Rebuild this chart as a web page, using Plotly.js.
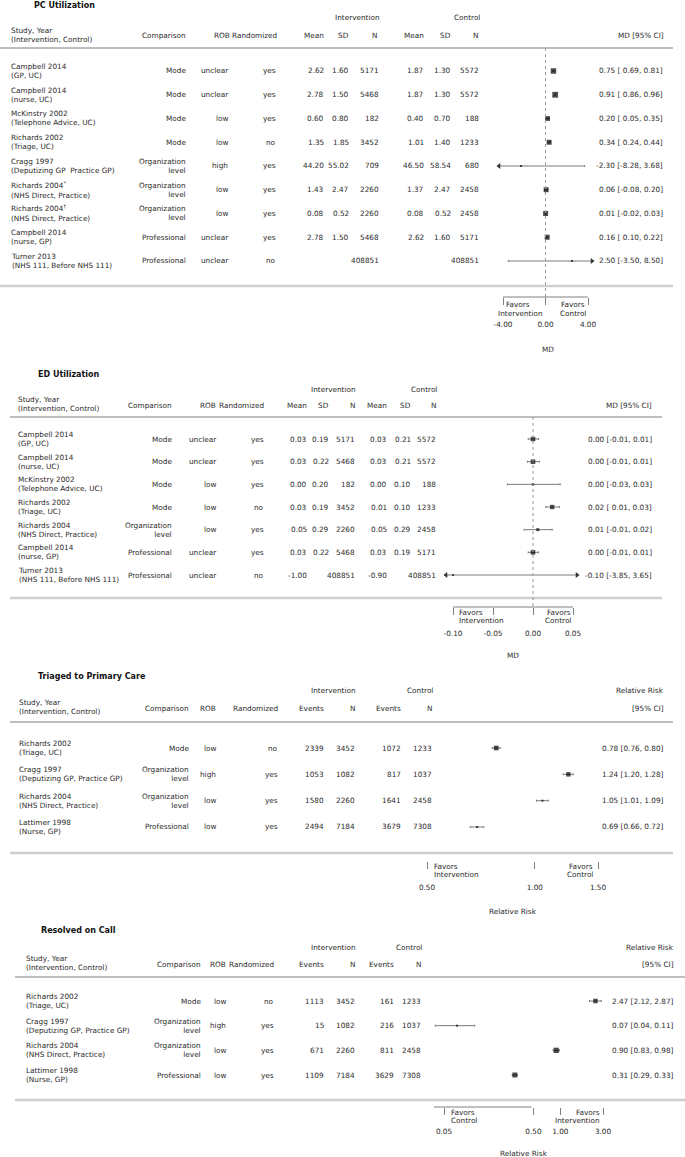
<!DOCTYPE html>
<html>
<head>
<meta charset="utf-8">
<script src="https://cdn.plot.ly/plotly-3.0.1.min.js"></script>
<style>
  body { margin: 0; background: #fff; }
  #graph { width: 685px; height: 1157px; }
</style>
</head>
<body>
<div id="graph"></div>
<script>
// ---------- data: PC utilization (mean difference) ----------
var pcStudy = ['Campbell 2014', 'Campbell 2014', 'McKinstry 2002', 'Richards 2002', 'Cragg 1997',
  'Richards 2004<sup>*</sup>', 'Richards 2004<sup>†</sup>', 'Campbell 2014', 'Turner 2013'];
var pcArms = ['(GP, UC)', '(nurse, UC)', '(Telephone Advice, UC)', '(Triage, UC)', '(Deputizing GP  Practice GP)',
  '(NHS Direct, Practice)', '(NHS Direct, Practice)', '(nurse, GP)', '(NHS 111, Before NHS 111)'];
var pcComparison = ['Mode', 'Mode', 'Mode', 'Mode', 'Organization<br>level', 'Organization<br>level',
  'Organization<br>level', 'Professional', 'Professional'];
var pcRob = ['unclear', 'unclear', 'low', 'low', 'high', 'low', 'low', 'unclear', 'unclear'];
var pcRand = ['yes', 'yes', 'yes', 'no', 'yes', 'yes', 'yes', 'yes', 'no'];
var pcIntMean = [2.62, 2.78, 0.60, 1.35, 44.20, 1.43, 0.08, 2.78, null];
var pcIntSD = [1.60, 1.50, 0.80, 1.85, 55.02, 2.47, 0.52, 1.50, null];
var pcIntN = [5171, 5468, 182, 3452, 709, 2260, 2260, 5468, 408851];
var pcCtlMean = [1.87, 1.87, 0.40, 1.01, 46.50, 1.37, 0.08, 2.62, null];
var pcCtlSD = [1.30, 1.30, 0.70, 1.40, 58.54, 2.47, 0.52, 1.60, null];
var pcCtlN = [5572, 5572, 188, 1233, 680, 2458, 2458, 5171, 408851];
var pcMD = [0.75, 0.91, 0.20, 0.34, -2.30, 0.06, 0.01, 0.16, 2.50];
var pcLo = [0.69, 0.86, 0.05, 0.24, -8.28, -0.08, -0.02, 0.10, -3.50];
var pcHi = [0.81, 0.96, 0.35, 0.44, 3.68, 0.20, 0.03, 0.22, 8.50];
var pcTicks = [-4, 0, 4];

// ---------- data: ED utilization (mean difference) ----------
var edStudy = ['Campbell 2014', 'Campbell 2014', 'McKinstry 2002', 'Richards 2002', 'Richards 2004',
  'Campbell 2014', 'Turner 2013'];
var edArms = ['(GP, UC)', '(nurse, UC)', '(Telephone Advice, UC)', '(Triage, UC)', '(NHS Direct, Practice)',
  '(nurse, GP)', '(NHS 111, Before NHS 111)'];
var edComparison = ['Mode', 'Mode', 'Mode', 'Mode', 'Organization<br>level', 'Professional', 'Professional'];
var edRob = ['unclear', 'unclear', 'low', 'low', 'low', 'unclear', 'unclear'];
var edRand = ['yes', 'yes', 'yes', 'no', 'yes', 'yes', 'no'];
var edIntMean = [0.03, 0.03, 0.00, 0.03, 0.05, 0.03, -1.00];
var edIntSD = [0.19, 0.22, 0.20, 0.19, 0.29, 0.22, null];
var edIntN = [5171, 5468, 182, 3452, 2260, 5468, 408851];
var edCtlMean = [0.03, 0.03, 0.00, 0.01, 0.05, 0.03, -0.90];
var edCtlSD = [0.21, 0.21, 0.10, 0.10, 0.29, 0.19, null];
var edCtlN = [5572, 5572, 188, 1233, 2458, 5171, 408851];
// plotted (unrounded) and printed values
var edMD = [0.000, 0.000, 0.000, 0.024, 0.006, 0.000, -0.10];
var edLo = [-0.006, -0.007, -0.032, 0.016, -0.011, -0.006, -3.85];
var edHi = [0.007, 0.008, 0.034, 0.033, 0.024, 0.007, 3.65];
var edCI = ['0.00 [-0.01, 0.01]', '0.00 [-0.01, 0.01]', '0.00 [-0.03, 0.03]', '0.02 [ 0.01, 0.03]',
  '0.01 [-0.01, 0.02]', '0.00 [-0.01, 0.01]', '-0.10 [-3.85, 3.65]'];
var edTicks = [-0.10, -0.05, 0.00, 0.05];

// ---------- data: triaged to primary care (relative risk) ----------
var tpStudy = ['Richards 2002', 'Cragg 1997', 'Richards 2004', 'Lattimer 1998'];
var tpArms = ['(Triage, UC)', '(Deputizing GP, Practice GP)', '(NHS Direct, Practice)', '(Nurse, GP)'];
var tpComparison = ['Mode', 'Organization<br>level', 'Organization<br>level', 'Professional'];
var tpRob = ['low', 'high', 'low', 'low'];
var tpRand = ['no', 'yes', 'yes', 'yes'];
var tpIntEvents = [2339, 1053, 1580, 2494];
var tpIntN = [3452, 1082, 2260, 7184];
var tpCtlEvents = [1072, 817, 1641, 3679];
var tpCtlN = [1233, 1037, 2458, 7308];
var tpRR = [0.78, 1.24, 1.05, 0.69];
var tpLo = [0.76, 1.20, 1.01, 0.66];
var tpHi = [0.80, 1.28, 1.09, 0.72];
var tpTicks = [0.5, 1.0, 1.5];

// ---------- data: resolved on call (relative risk) ----------
var rcStudy = ['Richards 2002', 'Cragg 1997', 'Richards 2004', 'Lattimer 1998'];
var rcArms = ['(Triage, UC)', '(Deputizing GP, Practice GP)', '(NHS Direct, Practice)', '(Nurse, GP)'];
var rcComparison = ['Mode', 'Organization<br>level', 'Organization<br>level', 'Professional'];
var rcRob = ['low', 'high', 'low', 'low'];
var rcRand = ['no', 'yes', 'yes', 'yes'];
var rcIntEvents = [1113, 15, 671, 1109];
var rcIntN = [3452, 1082, 2260, 7184];
var rcCtlEvents = [161, 216, 811, 3629];
var rcCtlN = [1233, 1037, 2458, 7308];
var rcRR = [2.47, 0.07, 0.90, 0.31];
var rcLo = [2.12, 0.04, 0.83, 0.29];
var rcHi = [2.87, 0.11, 0.98, 0.33];
var rcTicks = [0.05, 0.5, 1.0, 3.0];

// box sizes (px) of the study squares
var pcBox = [5.5, 5.8, 4.8, 5, 2, 5, 5, 5, 2];
var edBox = [4.6, 4.6, 2.5, 4.3, 3, 4.6, 1.8];
var tpBox = [4.7, 4.4, 2, 2];
var rcBox = [4.5, 2, 5.3, 5];

// ---------- page geometry ----------
var W = 685, H = 1157;
var FONT = 'DejaVu Sans, Verdana, sans-serif';
var FS = 7.3;
var TXT = '#2a2a2a';

var annotations = [], shapes = [], traces = [], layout = {};

function py(p) { return 1 - p / H; }

function note(text, xpx, ypx, anchor, extra) {
  var a = {
    text: text, xref: 'paper', yref: 'paper', x: xpx / W, y: py(ypx),
    xanchor: anchor, yanchor: 'middle', showarrow: false, borderpad: 0,
    align: anchor === 'right' ? 'right' : 'left',
    font: { family: FONT, size: FS, color: TXT }
  };
  for (var k in extra) a[k] = extra[k];
  annotations.push(a);
}

function cell(text, xpx, row, yref, anchor) {
  if (text === null || text === undefined || text === '') return;
  annotations.push({
    text: String(text), xref: 'paper', yref: yref, x: xpx / W, y: row,
    xanchor: anchor, yanchor: 'middle', showarrow: false, borderpad: 0,
    align: anchor === 'right' ? 'right' : 'left',
    font: { family: FONT, size: FS, color: TXT }
  });
}

function hline(x0, x1, ypx, color, width) {
  shapes.push({ type: 'line', xref: 'paper', yref: 'paper', x0: x0 / W, x1: x1 / W,
    y0: py(ypx), y1: py(ypx), line: { color: color, width: width } });
}

function f2(v) { return v === null ? '' : v.toFixed(2); }
function lo2(v) { return (v < 0 ? '' : ' ') + v.toFixed(2); }

// draw one forest panel
function panel(n, g, rows) {
  var xa = n === 1 ? 'x' : 'x' + n, ya = n === 1 ? 'y' : 'y' + n;
  var xk = n === 1 ? 'xaxis' : 'xaxis' + n, yk = n === 1 ? 'yaxis' : 'yaxis' + n;
  var isLog = g.log;
  var tv = g.ticks;
  var conv = function (v) { return isLog ? Math.log10(v) : v; };

  layout[xk] = {
    domain: [g.dom[0] / W, g.dom[1] / W], range: g.range, type: isLog ? 'log' : 'linear',
    anchor: ya, showgrid: false, zeroline: false, showline: false,
    ticks: 'outside', ticklen: 7, tickwidth: 1, tickcolor: '#808080',
    tickvals: tv, ticktext: tv.map(f2), ticklabelstandoff: g.standoff,
    tickfont: { family: FONT, size: FS, color: TXT }, fixedrange: true
  };
  var yb = (g.brk - g.row0) / g.step, yt = (g.hdr - g.row0) / g.step;
  layout[yk] = { domain: [py(g.brk), py(g.hdr)], range: [yb, yt], visible: false, anchor: xa, fixedrange: true };

  // table rules
  hline(g.rule[0], g.rule[1], g.hdr, '#a8a8a8', 1.3);
  hline(g.rule[0], g.rule[1], g.bottom, '#cfcfcf', 2.5);

  // reference line and bracket axis
  shapes.push({ type: 'line', xref: xa, yref: 'paper', x0: conv(g.ref), x1: conv(g.ref),
    y0: py(g.hdr), y1: py(g.brk), line: { color: '#9a9a9a', width: 1, dash: 'dot' } });
  shapes.push({ type: 'line', xref: xa, yref: 'paper', x0: conv(tv[0]), x1: conv(tv[tv.length - 1]),
    y0: py(g.brk), y1: py(g.brk), line: { color: '#808080', width: 1 } });

  // estimates with CIs clipped to the axis range
  var lim0 = isLog ? Math.pow(10, g.range[0]) : g.range[0];
  var lim1 = isLog ? Math.pow(10, g.range[1]) : g.range[1];
  var idx = rows.est.map(function (_, i) { return i; });
  var hiC = rows.hi.map(function (v) { return Math.min(v, lim1); });
  var loC = rows.lo.map(function (v) { return Math.max(v, lim0); });
  traces.push({
    type: 'scatter', mode: 'markers', xaxis: xa, yaxis: ya, x: rows.est, y: idx,
    marker: { symbol: 'square', size: rows.box, color: '#000', line: { width: 0 } },
    error_x: { type: 'data', symmetric: false,
      array: hiC.map(function (v, i) { return v - rows.est[i]; }),
      arrayminus: loC.map(function (v, i) { return rows.est[i] - v; }),
      color: '#7a7a7a', thickness: 1, width: 1 },
    hoverinfo: 'skip', showlegend: false
  });
  // arrows where the CI runs past the axis
  var ax = [], ay = [], as = [];
  rows.lo.forEach(function (v, i) { if (v < lim0) { ax.push(lim0); ay.push(i); as.push('triangle-left'); } });
  rows.hi.forEach(function (v, i) { if (v > lim1) { ax.push(lim1); ay.push(i); as.push('triangle-right'); } });
  if (ax.length) {
    traces.push({ type: 'scatter', mode: 'markers', xaxis: xa, yaxis: ya, x: ax, y: ay, cliponaxis: false,
      marker: { symbol: as, size: 5, color: '#333' }, hoverinfo: 'skip', showlegend: false });
  }

  // axis title and favors labels
  note(g.axisTitle, (g.dom[0] + g.dom[1]) / 2 + g.titleDx, g.titleY, 'center');
  g.favors.forEach(function (f) { note(f[0], f[1], f[2], f[3]); });

  // panel title
  note('<b>' + g.title + '</b>', g.titleX, g.titleTop, 'left', { font: { family: FONT, size: 8, color: '#111' } });

  // table cells
  rows.cols.forEach(function (c) {
    c.vals.forEach(function (v, i) { cell(v, c.x, i, ya, c.anchor); });
  });
  g.heads.forEach(function (h) { note(h[0], h[1], h[2], h[3]); });
}

function studyCells(study, arms) {
  return study.map(function (s, i) { return s + '<br>' + arms[i]; });
}
function ciText(est, lo, hi, pad) {
  return est.map(function (v, i) {
    return f2(v) + ' [' + (pad ? lo2(lo[i]) : f2(lo[i])) + ', ' + f2(hi[i]) + ']';
  });
}
function ints(a) { return a.map(function (v) { return v === null ? '' : String(v); }); }

// ---------- panel 1 ----------
panel(1, {
  title: 'PC Utilization', titleX: 33, titleTop: 5,
  hdr: 48, row0: 71, step: 23.75, bottom: 286, brk: 297, rule: [0, 673],
  dom: [499, 592], range: [-4.376, 4.376], ref: 0, ticks: pcTicks, standoff: 13,
  axisTitle: 'MD', titleY: 350, titleDx: 2,
  favors: [['Favors', 505, 304, 'left'], ['Intervention', 497, 313, 'left'],
           ['Favors', 586, 304, 'right'], ['Control', 587, 313, 'right']],
  heads: [['Intervention', 381, 18, 'right'], ['Control', 481, 18, 'right'],
          ['Study, Year<br>(Intervention, Control)', 10, 35, 'left'], ['Comparison', 187, 35, 'right'],
          ['ROB', 231, 35, 'right'], ['Randomized', 278, 35, 'right'], ['Mean', 325, 35, 'right'],
          ['SD', 350, 35, 'right'], ['N', 378, 35, 'right'], ['Mean', 425, 35, 'right'],
          ['SD', 452, 35, 'right'], ['N', 479, 35, 'right'], ['MD [95% CI]', 665, 35, 'right']]
}, {
  est: pcMD, lo: pcLo, hi: pcHi, box: pcBox,
  cols: [
    { x: 10, anchor: 'left', vals: studyCells(pcStudy, pcArms) },
    { x: 187, anchor: 'right', vals: pcComparison },
    { x: 229, anchor: 'right', vals: pcRob },
    { x: 277, anchor: 'right', vals: pcRand },
    { x: 325, anchor: 'right', vals: pcIntMean.map(f2) },
    { x: 350, anchor: 'right', vals: pcIntSD.map(f2) },
    { x: 380, anchor: 'right', vals: ints(pcIntN) },
    { x: 425, anchor: 'right', vals: pcCtlMean.map(f2) },
    { x: 452, anchor: 'right', vals: pcCtlSD.map(f2) },
    { x: 480, anchor: 'right', vals: ints(pcCtlN) },
    { x: 664, anchor: 'right', vals: ciText(pcMD, pcLo, pcHi, true) }
  ]
});

// ---------- panel 2 ----------
panel(2, {
  title: 'ED Utilization', titleX: 37, titleTop: 374,
  hdr: 417, row0: 439, step: 22.667, bottom: 598, brk: 607, rule: [10, 662],
  dom: [446, 577], range: [-0.10875, 0.055], ref: 0, ticks: edTicks, standoff: 12,
  axisTitle: 'MD', titleY: 655, titleDx: 1,
  favors: [['Favors', 458, 612, 'left'], ['Intervention', 458, 620, 'left'],
           ['Favors', 572, 612, 'right'], ['Control', 572, 620, 'right']],
  heads: [['Intervention', 357, 390, 'right'], ['Control', 438, 390, 'right'],
          ['Study, Year<br>(Intervention, Control)', 17, 404, 'left'], ['Comparison', 173, 405, 'right'],
          ['ROB', 217, 405, 'right'], ['Randomized', 265, 405, 'right'], ['Mean', 308, 405, 'right'],
          ['SD', 330, 405, 'right'], ['N', 356, 405, 'right'], ['Mean', 388, 405, 'right'],
          ['SD', 412, 405, 'right'], ['N', 437, 405, 'right'], ['MD [95% CI]', 653, 405, 'right']]
}, {
  est: edMD, lo: edLo, hi: edHi, box: edBox,
  cols: [
    { x: 17, anchor: 'left', vals: studyCells(edStudy, edArms) },
    { x: 173, anchor: 'right', vals: edComparison },
    { x: 217, anchor: 'right', vals: edRob },
    { x: 265, anchor: 'right', vals: edRand },
    { x: 308, anchor: 'right', vals: edIntMean.map(f2) },
    { x: 330, anchor: 'right', vals: edIntSD.map(f2) },
    { x: 356, anchor: 'right', vals: ints(edIntN) },
    { x: 388, anchor: 'right', vals: edCtlMean.map(f2) },
    { x: 412, anchor: 'right', vals: edCtlSD.map(f2) },
    { x: 437, anchor: 'right', vals: ints(edCtlN) },
    { x: 653, anchor: 'right', vals: edCI }
  ]
});

// ---------- panel 3 ----------
panel(3, {
  title: 'Triaged to Primary Care', titleX: 37, titleTop: 676, log: true,
  hdr: 722, row0: 748, step: 26.33, bottom: 853, brk: 861, rule: [10, 673],
  dom: [427, 598], range: [Math.log10(0.5), Math.log10(1.5)], ref: 1, ticks: tpTicks, standoff: 12,
  axisTitle: 'Relative Risk', titleY: 911, titleDx: 0,
  favors: [['Favors', 433, 866, 'left'], ['Intervention', 433, 874, 'left'],
           ['Favors', 594, 866, 'right'], ['Control', 594, 874, 'right']],
  heads: [['Intervention', 357, 690, 'right'], ['Control', 434, 690, 'right'], ['Relative Risk', 665, 690, 'right'],
          ['Study, Year<br>(Intervention, Control)', 18, 707, 'left'], ['Comparison', 190, 708, 'right'],
          ['ROB', 217, 708, 'right'], ['Randomized', 279, 708, 'right'], ['Events', 325, 708, 'right'],
          ['N', 356, 708, 'right'], ['Events', 402, 708, 'right'], ['N', 433, 708, 'right'],
          ['[95% CI]', 665, 708, 'right']]
}, {
  est: tpRR, lo: tpLo, hi: tpHi, box: tpBox,
  cols: [
    { x: 18, anchor: 'left', vals: studyCells(tpStudy, tpArms) },
    { x: 190, anchor: 'right', vals: tpComparison },
    { x: 217, anchor: 'right', vals: tpRob },
    { x: 279, anchor: 'right', vals: tpRand },
    { x: 325, anchor: 'right', vals: ints(tpIntEvents) },
    { x: 356, anchor: 'right', vals: ints(tpIntN) },
    { x: 402, anchor: 'right', vals: ints(tpCtlEvents) },
    { x: 433, anchor: 'right', vals: ints(tpCtlN) },
    { x: 665, anchor: 'right', vals: ciText(tpRR, tpLo, tpHi, false) }
  ]
});

// ---------- panel 4 ----------
panel(4, {
  title: 'Resolved on Call', titleX: 40, titleTop: 930, log: true,
  hdr: 977, row0: 1001, step: 24.67, bottom: 1100, brk: 1107, rule: [15, 685],
  dom: [434, 613], range: [-1.41286, 0.58895], ref: 1, ticks: rcTicks, standoff: 10,
  axisTitle: 'Relative Risk', titleY: 1153, titleDx: 0,
  favors: [['Favors', 450, 1112, 'left'], ['Control', 450, 1120, 'left'],
           ['Favors', 601, 1112, 'right'], ['Intervention', 601, 1120, 'right']],
  heads: [['Intervention', 357, 947, 'right'], ['Control', 423, 947, 'right'], ['Relative Risk', 675, 947, 'right'],
          ['Study, Year<br>(Intervention, Control)', 25, 963, 'left'], ['Comparison', 202, 964, 'right'],
          ['ROB', 227, 964, 'right'], ['Randomized', 275, 964, 'right'], ['Events', 325, 964, 'right'],
          ['N', 356, 964, 'right'], ['Events', 395, 964, 'right'], ['N', 422, 964, 'right'],
          ['[95% CI]', 675, 964, 'right']]
}, {
  est: rcRR, lo: rcLo, hi: rcHi, box: rcBox,
  cols: [
    { x: 25, anchor: 'left', vals: studyCells(rcStudy, rcArms) },
    { x: 202, anchor: 'right', vals: rcComparison },
    { x: 227, anchor: 'right', vals: rcRob },
    { x: 275, anchor: 'right', vals: rcRand },
    { x: 325, anchor: 'right', vals: ints(rcIntEvents) },
    { x: 356, anchor: 'right', vals: ints(rcIntN) },
    { x: 395, anchor: 'right', vals: ints(rcCtlEvents) },
    { x: 422, anchor: 'right', vals: ints(rcCtlN) },
    { x: 675, anchor: 'right', vals: ciText(rcRR, rcLo, rcHi, false) }
  ]
});

layout.width = W;
layout.height = H;
layout.margin = { l: 0, r: 0, t: 0, b: 0 };
layout.paper_bgcolor = '#fff';
layout.plot_bgcolor = 'rgba(0,0,0,0)';
layout.showlegend = false;
layout.font = { family: FONT, size: FS, color: TXT };
layout.annotations = annotations;
layout.shapes = shapes;

Plotly.newPlot('graph', traces, layout, { displayModeBar: false, staticPlot: true });
</script>
</body>
</html>
